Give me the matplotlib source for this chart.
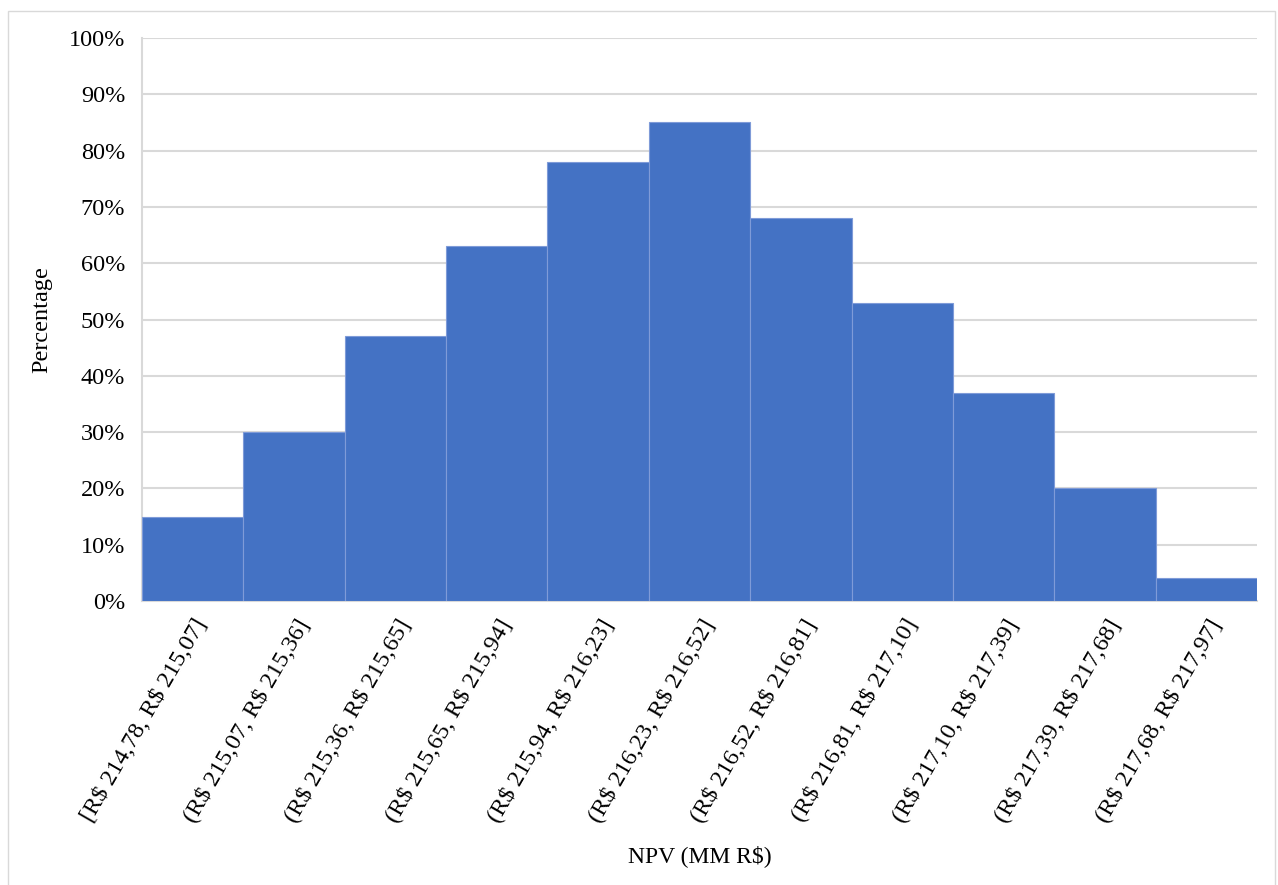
import matplotlib
matplotlib.use("Agg")
import matplotlib.pyplot as plt
from matplotlib.ticker import PercentFormatter
from matplotlib.patches import Rectangle

bins = [
    "[R$ 214,78, R$ 215,07]",
    "(R$ 215,07, R$ 215,36]",
    "(R$ 215,36, R$ 215,65]",
    "(R$ 215,65, R$ 215,94]",
    "(R$ 215,94, R$ 216,23]",
    "(R$ 216,23, R$ 216,52]",
    "(R$ 216,52, R$ 216,81]",
    "(R$ 216,81, R$ 217,10]",
    "(R$ 217,10, R$ 217,39]",
    "(R$ 217,39, R$ 217,68]",
    "(R$ 217,68, R$ 217,97]",
]
percentages = [15, 30, 47, 63, 78, 85, 68, 53, 37, 20, 4]
y_ticks = [0, 10, 20, 30, 40, 50, 60, 70, 80, 90, 100]

plt.rcParams["font.family"] = ["Liberation Serif", "DejaVu Serif"]
plt.rcParams["text.parse_math"] = False

fig = plt.figure(figsize=(12.78, 8.85), dpi=100)
ax = fig.add_axes([0.1111, 0.3209, 0.8725, 0.6361])

positions = list(range(len(bins)))
ax.bar(positions, percentages, width=1.0, color="#4472C4",
       edgecolor="#7F9BD8", linewidth=0.8, zorder=3)

ax.set_xlim(-0.5, len(bins) - 0.5)
ax.set_ylim(0, 100)
ax.set_yticks(y_ticks)
ax.yaxis.set_major_formatter(PercentFormatter(decimals=0))
ax.grid(axis="y", color="#D9D9D9", linewidth=1.5, zorder=0)
ax.set_axisbelow(True)

for side in ("top", "right"):
    ax.spines[side].set_visible(False)
ax.spines["left"].set_color("#D9D9D9")
ax.spines["left"].set_linewidth(1.5)
ax.spines["bottom"].set_color("#D9D9D9")
ax.spines["bottom"].set_linewidth(1.5)

ax.tick_params(axis="both", length=0, labelsize=17.5, colors="black")
ax.tick_params(axis="y", pad=12)
ax.set_xticks(positions)
ax.set_xticklabels(bins, rotation=60, ha="right", va="top",
                   rotation_mode="anchor")
ax.tick_params(axis="x", pad=10)

ax.set_ylabel("Percentage", fontsize=17.5, labelpad=12)
ax.set_xlabel("NPV (MM R$)", fontsize=17, labelpad=14)

# thin chart-area frame (its lower edge runs past the bottom of the image)
fig.patches.append(Rectangle((0.006, -0.02), 0.992, 1.008,
                             transform=fig.transFigure, fill=False,
                             edgecolor="#D9D9D9", linewidth=1.0))

fig.savefig("out.png", dpi=100)
